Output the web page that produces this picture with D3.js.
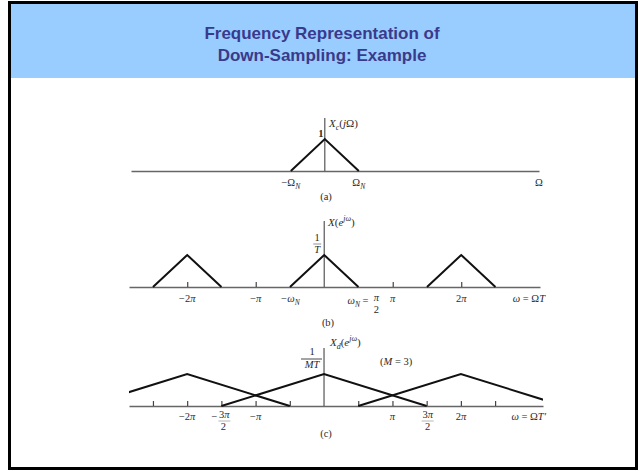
<!DOCTYPE html>
<html><head><meta charset="utf-8">
<script src="https://cdn.jsdelivr.net/npm/d3@7"></script>
<style>
body{margin:0;background:#fff}
svg text{font-family:"Liberation Serif","DejaVu Serif",serif;fill:#2a2a2a}
</style></head><body>
<svg id="c" width="640" height="471"></svg>
<script>
const titleLines = ["Frequency Representation of", "Down-Sampling: Example"];

// (a) continuous-time spectrum, Ω measured in units of Ω_N
const specA = [[[-1, 0], [0, 1], [1, 0]]];
const domainA = [-5.7, 6.3];
const ticksA = [];

// (b) sampled spectrum, ω measured in units of π (ω_N = π/2)
const specB = [
  [[-2.5, 0], [-2, 1], [-1.5, 0]],
  [[-0.5, 0], [0, 1], [0.5, 0]],
  [[1.5, 0], [2, 1], [2.5, 0]]
];
const domainB = [-2.85, 3.15];
const ticksB = [-2, -1, 1, 2];

// (c) after down-sampling by M = 3: copies widen to ±3π/2 and overlap
const specC = [
  [[-3.5, 0], [-2, 1], [-0.5, 0]],
  [[-1.5, 0], [0, 1], [1.5, 0]],
  [[0.5, 0], [2, 1], [3.5, 0]]
];
const domainC = [-2.85, 3.2];
const ticksC = [-2.5, -2, -1.5, -1, -0.5, 0.5, 1, 1.5, 2, 2.5];

const svg = d3.select("#c");

// slide frame and title band
svg.append("rect").attr("x", 9).attr("y", 2).attr("width", 628).attr("height", 76).attr("fill", "#99ccff");
svg.append("rect").attr("x", 9.5).attr("y", 2.5).attr("width", 627).attr("height", 466)
  .attr("fill", "none").attr("stroke", "#000").attr("stroke-width", 3);
svg.selectAll("text.title").data(titleLines).join("text")
  .attr("class", "title")
  .attr("x", 322).attr("y", (d, i) => 39 + i * 22)
  .attr("text-anchor", "middle")
  .style("font-family", "'Liberation Sans', Arial, sans-serif")
  .style("font-weight", "bold").style("font-size", "17px").style("fill", "#3a3a8c")
  .text(d => d);

// math text helper: parts are [text, kind] with kind i (italic), r (roman), sub, sup
function mathText(x, y, parts, anchor, size) {
  size = size || 10.5;
  const t = svg.append("text").attr("x", x).attr("y", y)
    .attr("text-anchor", anchor || "start").style("font-size", size + "px");
  let shift = 0;
  parts.forEach(([s, k]) => {
    const sp = t.append("tspan").text(s);
    let target = 0;
    if (k === "sub") { target = 3; sp.style("font-size", (size * 0.72) + "px").style("font-style", "italic"); }
    else if (k === "sup") { target = -5; sp.style("font-size", (size * 0.72) + "px").style("font-style", "italic"); }
    else if (k === "i") sp.style("font-style", "italic");
    if (target !== shift) { sp.attr("dy", target - shift); shift = target; }
  });
  return t;
}

function panel(cfg) {
  const x = d3.scaleLinear().domain(cfg.domain).range(cfg.range);
  const y = d3.scaleLinear().domain([0, 1]).range([cfg.axisY, cfg.axisY - 32]);
  const g = svg.append("g");
  const clipId = "clip" + cfg.id;
  svg.append("clipPath").attr("id", clipId).append("rect")
    .attr("x", cfg.range[0]).attr("y", cfg.topY - 10)
    .attr("width", cfg.range[1] - cfg.range[0]).attr("height", cfg.axisY - cfg.topY + 12);

  // horizontal axis with upward ticks
  const ax = d3.axisBottom(x).tickValues(cfg.ticks).tickSizeInner(-5).tickSizeOuter(0).tickFormat("");
  const axG = g.append("g").attr("transform", `translate(0,${cfg.axisY})`).call(ax);
  axG.select(".domain").attr("stroke", "#666").attr("stroke-width", 1.4);
  axG.selectAll(".tick line").attr("stroke", "#444").attr("stroke-width", 1.2);

  // vertical axis
  g.append("line").attr("x1", x(0)).attr("x2", x(0))
    .attr("y1", cfg.topY).attr("y2", cfg.axisY)
    .attr("stroke", "#555").attr("stroke-width", 1.2);

  // spectrum copies
  const line = d3.line().x(d => x(d[0])).y(d => y(d[1]));
  g.append("g").attr("clip-path", `url(#${clipId})`)
    .selectAll("path").data(cfg.spec).join("path")
    .attr("d", line).attr("fill", "none").attr("stroke", "#111")
    .attr("stroke-width", 2).attr("stroke-linejoin", "miter");
  return x;
}

// ---- (a)
const xA = panel({id: "a", domain: domainA, range: [131, 539], axisY: 171, topY: 118, spec: specA, ticks: ticksA});
mathText(329, 127, [["X", "i"], ["c", "sub"], ["(", "r"], ["j", "i"], ["Ω", "r"], [")", "r"]], "start", 11);
mathText(xA(0) - 4, 137, [["1", "r"]], "middle").style("font-weight", "bold");
mathText(xA(-1), 186, [["−Ω", "r"], ["N", "sub"]], "middle");
mathText(xA(1), 186, [["Ω", "r"], ["N", "sub"]], "middle");
mathText(539, 186, [["Ω", "r"]], "middle");
mathText(326, 200, [["(a)", "r"]], "middle");

// ---- (b)
const xB = panel({id: "b", domain: domainB, range: [129, 540], axisY: 287, topY: 221, spec: specB, ticks: ticksB});
mathText(328, 226, [["X", "i"], ["(", "r"], ["e", "i"], ["jω", "sup"], [")", "r"]], "start", 11);
mathText(xB(0) - 7, 241, [["1", "r"]], "middle");
svg.append("line").attr("x1", xB(0) - 11).attr("x2", xB(0) - 3).attr("y1", 244).attr("y2", 244).attr("stroke", "#777").attr("stroke-width", 0.8);
mathText(xB(0) - 7, 253, [["T", "i"]], "middle");
mathText(xB(-2), 302, [["−2", "r"], ["π", "i"]], "middle");
mathText(xB(-1), 302, [["−", "r"], ["π", "i"]], "middle");
mathText(xB(-0.5), 302, [["−ω", "i"], ["N", "sub"]], "middle");
mathText(xB(0.5) + 10, 304, [["ω", "i"], ["N", "sub"], [" =", "r"]], "end");
mathText(xB(0.5) + 18, 301, [["π", "i"]], "middle");
mathText(xB(0.5) + 18, 313, [["2", "r"]], "middle");
mathText(xB(1), 302, [["π", "i"]], "middle");
mathText(xB(2), 302, [["2", "r"], ["π", "i"]], "middle");
mathText(545, 302, [["ω", "i"], [" = Ω", "r"], ["T", "i"]], "end");
mathText(328, 326, [["(b)", "r"]], "middle");

// ---- (c)
const xC = panel({id: "c", domain: domainC, range: [129, 543], axisY: 406, topY: 348, spec: specC, ticks: ticksC});
mathText(330, 346, [["X", "i"], ["d", "sub"], ["(", "r"], ["e", "i"], ["jω", "sup"], [")", "r"]], "start", 11);
mathText(xC(0) - 12, 355, [["1", "r"]], "middle");
svg.append("line").attr("x1", xC(0) - 23).attr("x2", xC(0) - 2).attr("y1", 359).attr("y2", 359).attr("stroke", "#333").attr("stroke-width", 0.9);
mathText(xC(0) - 12, 368, [["MT", "i"]], "middle");
mathText(380, 365, [["(", "r"], ["M", "i"], [" = 3)", "r"]]);
mathText(xC(-2), 420, [["−2", "r"], ["π", "i"]], "middle");
mathText(xC(-1.5) - 7, 420, [["−", "r"]], "middle");
mathText(xC(-1.5) + 3, 418, [["3", "r"], ["π", "i"]], "middle");
svg.append("line").attr("x1", xC(-1.5) - 3).attr("x2", xC(-1.5) + 9).attr("y1", 421).attr("y2", 421).attr("stroke", "#999").attr("stroke-width", 0.7);
mathText(xC(-1.5) + 2, 430, [["2", "r"]], "middle");
mathText(xC(-1), 420, [["−", "r"], ["π", "i"]], "middle");
mathText(xC(1), 420, [["π", "i"]], "middle");
mathText(xC(1.5) + 1, 418, [["3", "r"], ["π", "i"]], "middle");
svg.append("line").attr("x1", xC(1.5) - 5).attr("x2", xC(1.5) + 7).attr("y1", 421).attr("y2", 421).attr("stroke", "#999").attr("stroke-width", 0.7);
mathText(xC(1.5) + 1, 430, [["2", "r"]], "middle");
mathText(xC(2), 420, [["2", "r"], ["π", "i"]], "middle");
mathText(546, 420, [["ω", "i"], [" = Ω", "r"], ["T′", "i"]], "end");
mathText(326, 437, [["(c)", "r"]], "middle");
</script>
</body></html>
